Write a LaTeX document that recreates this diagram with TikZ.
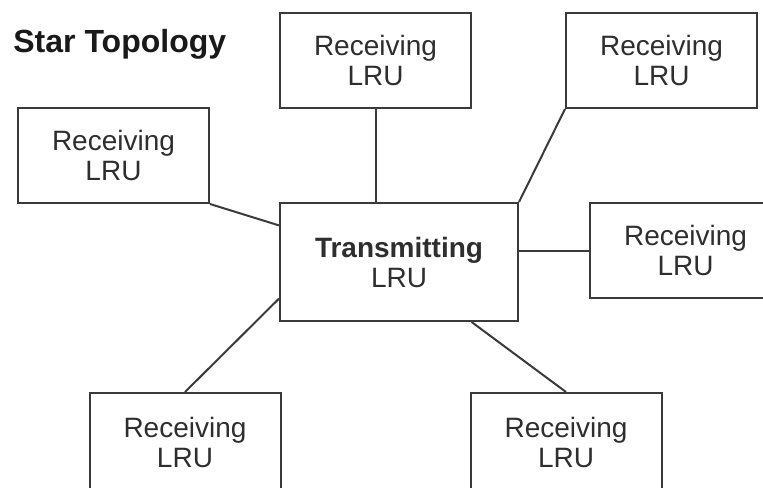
\documentclass[tikz,border=0pt]{standalone}
\usepackage{fontspec}
\setmainfont{Liberation Sans}
\usepackage{tikz}
\usetikzlibrary{positioning, calc}
\usepackage{xcolor}
\definecolor{lrugray}{HTML}{3A3A3A}
\definecolor{lrutext}{HTML}{2E2E2E}

\begin{document}
\begin{tikzpicture}[x=0.5pt, y=-0.5pt,
    rxbox/.style={draw=lrugray, line width=1pt, rectangle, align=center,
      minimum width=95.5pt, minimum height=47.5pt, text=lrutext,
      font=\fontsize{14pt}{15pt}\selectfont},
    txbox/.style={rxbox, minimum width=119pt, minimum height=59pt},
    link/.style={draw=lrugray, line width=1pt}]
      \useasboundingbox (0,0) rectangle (763,487);
      \clip (0,0) rectangle (763,487);
      \node[font=\fontsize{16pt}{18pt}\selectfont\bfseries, text=black!90,
        inner sep=0pt, anchor=base west] (title) at (13,52) {Star Topology};
      % transmitting unit in the middle
      \node[txbox] (tx) at (399,262) {\textbf{Transmitting}\\LRU};
      % receiving units round it
      \node[rxbox] (rxtop) at (375.5,60.5) {Receiving\\LRU};
      \node[rxbox] (rxtopright) at (661.5,60.5) {Receiving\\LRU};
      \node[rxbox] (rxleft) at (113.5,155.5) {Receiving\\LRU};
      \node[rxbox] (rxright) at (685.5,250.5) {Receiving\\LRU};
      \node[rxbox, minimum height=49.5pt] (rxbotleft) at (185,442.5) {Receiving\\LRU};
      \node[rxbox, minimum height=49.5pt] (rxbotright) at (566,442.5) {Receiving\\LRU};
      % links
      \draw[link] (rxtop.south) -- (rxtop.south |- tx.north);
      \draw[link] (rxtopright.south west) -- (tx.north east);
      \draw[link] (rxleft.south east) -- ($(tx.north west)!0.195!(tx.south west)$);
      \draw[link] (rxright.west -| tx.east) -- (rxright.west);
      \draw[link] (rxbotleft.north) -- ($(tx.north west)!0.805!(tx.south west)$);
      \draw[link] ($(tx.south west)!0.8025!(tx.south east)$) -- (rxbotright.north);
    \end{tikzpicture}
\end{document}
